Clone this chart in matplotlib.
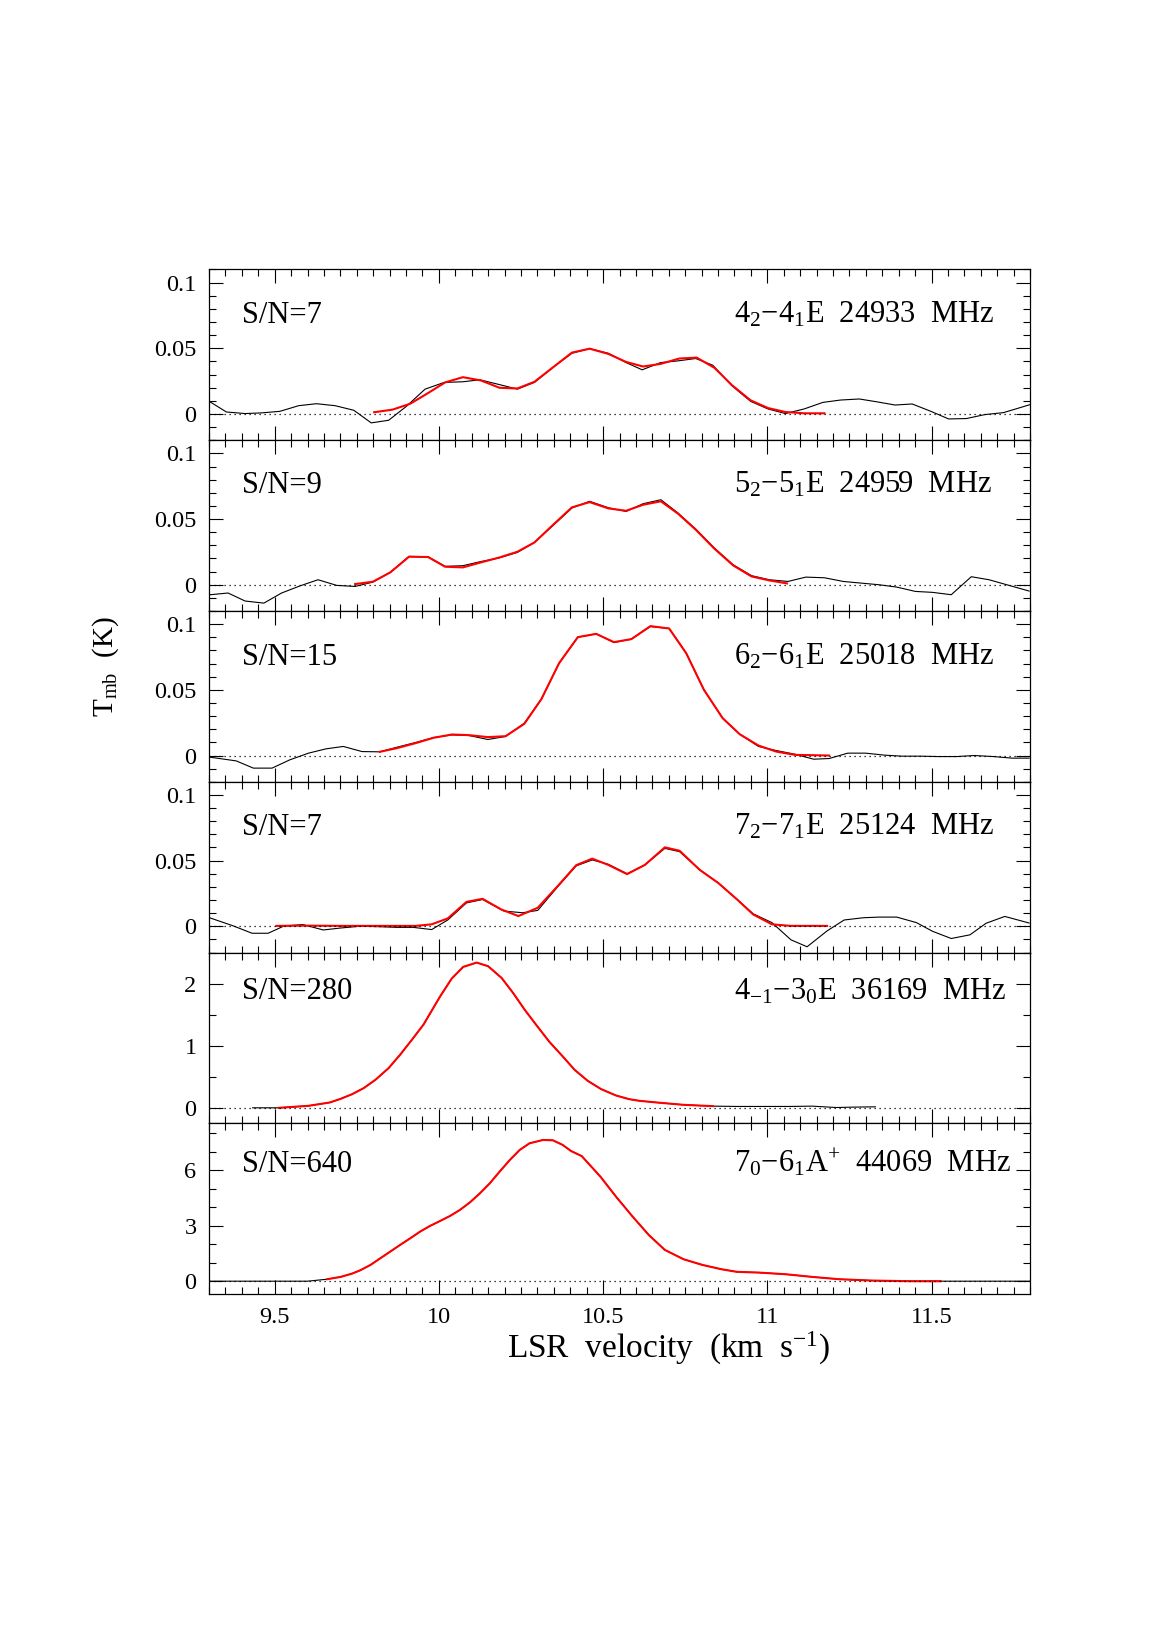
import matplotlib
matplotlib.use('Agg')
import matplotlib.pyplot as plt
from matplotlib.ticker import MultipleLocator, FuncFormatter

plt.rcParams['font.family'] = ['Liberation Serif', 'DejaVu Serif']
plt.rcParams['mathtext.fontset'] = 'custom'
plt.rcParams['mathtext.rm'] = 'Liberation Serif'
plt.rcParams['mathtext.it'] = 'Liberation Serif:italic'
plt.rcParams['mathtext.default'] = 'rm'

# ---- panel 1: 4_2-4_1 E 24933 MHz ----
v1_obs = [9.304, 9.353, 9.410, 9.459, 9.516, 9.573, 9.627, 9.684, 9.741, 9.794, 9.847, 9.901,
          9.958, 10.016, 10.073, 10.125, 10.182, 10.239, 10.291, 10.348, 10.405, 10.459, 10.516,
          10.570, 10.619, 10.675, 10.728, 10.782, 10.834, 10.892, 10.949, 11.002, 11.055, 11.112,
          11.169, 11.223, 11.280, 11.332, 11.389, 11.441, 11.498, 11.552, 11.606, 11.662, 11.719, 11.800]
t1_obs = [0.0091, 0.0015, 0.0003, 0.0008, 0.0020, 0.0063, 0.0078, 0.0063, 0.0028, -0.0068, -0.0048, 0.0058,
          0.0189, 0.0240, 0.0245, 0.0260, 0.0225, 0.0189, 0.0240, 0.0356, 0.0462, 0.0497, 0.0462,
          0.0391, 0.0336, 0.0391, 0.0404, 0.0422, 0.0371, 0.0215, 0.0096, 0.0038, 0.0003, 0.0038,
          0.0088, 0.0106, 0.0114, 0.0093, 0.0068, 0.0076, 0.0020, -0.0038, -0.0035, -0.0005, 0.0010, 0.0071]
v1_fit = [9.803, 9.859, 9.913, 9.967, 10.019, 10.073, 10.128, 10.185, 10.239, 10.291, 10.348, 10.405,
          10.459, 10.516, 10.570, 10.622, 10.675, 10.732, 10.785, 10.839, 10.892, 10.949, 11.002,
          11.055, 11.112, 11.174]
t1_fit = [0.0013, 0.0033, 0.0078, 0.0159, 0.0240, 0.0280, 0.0255, 0.0199, 0.0194, 0.0245, 0.0356, 0.0467,
          0.0497, 0.0457, 0.0396, 0.0361, 0.0381, 0.0422, 0.0429, 0.0351, 0.0220, 0.0104, 0.0045,
          0.0015, 0.0005, 0.0005]

# ---- panel 2: 5_2-5_1 E 24959 MHz ----
v2_obs = [9.304, 9.358, 9.410, 9.467, 9.521, 9.578, 9.632, 9.689, 9.745, 9.799, 9.852, 9.909,
          9.967, 10.019, 10.073, 10.125, 10.182, 10.239, 10.291, 10.348, 10.405, 10.459, 10.516,
          10.570, 10.622, 10.676, 10.728, 10.782, 10.839, 10.896, 10.952, 11.006, 11.063, 11.117,
          11.174, 11.231, 11.283, 11.340, 11.394, 11.451, 11.503, 11.560, 11.621, 11.675, 11.797]
t2_obs = [-0.0076, -0.0063, -0.0124, -0.0140, -0.0063, -0.0008, 0.0038, -0.0005, -0.0013, 0.0020, 0.0094, 0.0216,
          0.0213, 0.0140, 0.0145, 0.0175, 0.0203, 0.0246, 0.0322, 0.0452, 0.0584, 0.0635, 0.0586,
          0.0558, 0.0617, 0.0647, 0.0546, 0.0424, 0.0279, 0.0152, 0.0069, 0.0038, 0.0025, 0.0058,
          0.0053, 0.0025, 0.0013, 0.0000, -0.0018, -0.0051, -0.0058, -0.0076, 0.0061, 0.0038, -0.0048]
v2_fit = [9.745, 9.799, 9.852, 9.909, 9.967, 10.019, 10.073, 10.128, 10.185, 10.239, 10.291, 10.348,
          10.405, 10.459, 10.516, 10.570, 10.622, 10.676, 10.728, 10.782, 10.839, 10.896, 10.952,
          11.006, 11.060]
t2_fit = [0.0005, 0.0023, 0.0094, 0.0213, 0.0211, 0.0137, 0.0132, 0.0170, 0.0208, 0.0251, 0.0322, 0.0457,
          0.0589, 0.0629, 0.0581, 0.0563, 0.0609, 0.0635, 0.0541, 0.0419, 0.0274, 0.0147, 0.0063,
          0.0033, 0.0010]

# ---- panel 3: 6_2-6_1 E 25018 MHz ----
v3_obs = [9.304, 9.383, 9.435, 9.492, 9.546, 9.603, 9.657, 9.709, 9.766, 9.820, 9.872, 9.929,
          9.984, 10.040, 10.092, 10.149, 10.203, 10.260, 10.312, 10.366, 10.423, 10.479, 10.533,
          10.586, 10.644, 10.701, 10.753, 10.807, 10.864, 10.916, 10.973, 11.027, 11.084, 11.141,
          11.188, 11.245, 11.299, 11.356, 11.410, 11.467, 11.520, 11.577, 11.630, 11.688, 11.745, 11.797]
t3_obs = [-0.0013, -0.0041, -0.0096, -0.0096, -0.0033, 0.0018, 0.0051, 0.0069, 0.0030, 0.0028, 0.0063, 0.0099,
          0.0137, 0.0157, 0.0152, 0.0122, 0.0145, 0.0246, 0.0429, 0.0703, 0.0901, 0.0926, 0.0860,
          0.0886, 0.0982, 0.0967, 0.0779, 0.0500, 0.0284, 0.0162, 0.0069, 0.0038, 0.0010, -0.0028,
          -0.0023, 0.0018, 0.0018, 0.0003, -0.0005, -0.0005, -0.0008, -0.0008, 0.0000, -0.0008, -0.0020, -0.0020]
v3_fit = [9.820, 9.872, 9.929, 9.984, 10.040, 10.092, 10.149, 10.203, 10.260, 10.312, 10.366, 10.423,
          10.479, 10.533, 10.586, 10.644, 10.701, 10.753, 10.807, 10.864, 10.916, 10.973, 11.027,
          11.084, 11.188]
t3_fit = [0.0028, 0.0056, 0.0094, 0.0135, 0.0160, 0.0155, 0.0140, 0.0147, 0.0241, 0.0429, 0.0703, 0.0901,
          0.0926, 0.0863, 0.0886, 0.0985, 0.0967, 0.0779, 0.0500, 0.0284, 0.0162, 0.0076, 0.0030,
          0.0005, 0.0000]

# ---- panel 4: 7_2-7_1 E 25124 MHz ----
v4_obs = [9.304, 9.374, 9.431, 9.480, 9.529, 9.586, 9.648, 9.701, 9.758, 9.815, 9.872, 9.921,
          9.978, 10.027, 10.084, 10.133, 10.198, 10.255, 10.301, 10.361, 10.418, 10.467, 10.516,
          10.573, 10.627, 10.688, 10.733, 10.794, 10.851, 10.908, 10.957, 11.014, 11.072, 11.121,
          11.182, 11.234, 11.292, 11.340, 11.394, 11.454, 11.503, 11.560, 11.617, 11.666, 11.723, 11.797]
t4_obs = [0.0063, 0.0003, -0.0053, -0.0053, 0.0003, 0.0013, -0.0028, -0.0013, 0.0000, -0.0003, -0.0008, -0.0008,
          -0.0025, 0.0048, 0.0178, 0.0204, 0.0116, 0.0103, 0.0121, 0.0299, 0.0460, 0.0505, 0.0472,
          0.0400, 0.0467, 0.0593, 0.0568, 0.0430, 0.0329, 0.0204, 0.0095, 0.0028, -0.0103, -0.0156,
          -0.0035, 0.0048, 0.0065, 0.0070, 0.0070, 0.0028, -0.0038, -0.0093, -0.0065, 0.0023, 0.0075, 0.0025]
v4_fit = [9.505, 9.603, 9.701, 9.815, 9.929, 9.978, 10.027, 10.084, 10.133, 10.190, 10.242, 10.301,
          10.361, 10.418, 10.467, 10.516, 10.573, 10.627, 10.688, 10.733, 10.794, 10.851, 10.908,
          10.957, 11.014, 11.072, 11.182]
t4_fit = [0.0003, 0.0005, 0.0003, 0.0003, 0.0003, 0.0015, 0.0060, 0.0186, 0.0209, 0.0128, 0.0078, 0.0141,
          0.0304, 0.0465, 0.0515, 0.0467, 0.0397, 0.0467, 0.0601, 0.0575, 0.0430, 0.0329, 0.0204,
          0.0090, 0.0015, 0.0003, 0.0003]

# ---- panel 5: 4_-1-3_0 E 36169 MHz ----
v5_obs = [9.433, 9.480, 9.513, 9.603, 9.668, 9.701, 9.736, 9.771, 9.807, 9.847, 9.882, 9.918,
          9.953, 9.983, 10.004, 10.039, 10.074, 10.115, 10.150, 10.191, 10.226, 10.261, 10.302,
          10.337, 10.377, 10.413, 10.453, 10.494, 10.539, 10.579, 10.610, 10.663, 10.745, 10.834,
          10.908, 10.989, 11.071, 11.136, 11.210, 11.259, 11.329]
t5_obs = [0.000, 0.000, 0.000, 0.032, 0.086, 0.145, 0.220, 0.317, 0.452, 0.640, 0.855, 1.097,
          1.339, 1.608, 1.796, 2.081, 2.269, 2.339, 2.280, 2.091, 1.849, 1.581, 1.296,
          1.059, 0.828, 0.613, 0.435, 0.301, 0.199, 0.140, 0.113, 0.086, 0.048, 0.027,
          0.022, 0.022, 0.022, 0.027, 0.005, 0.011, 0.016]
v5_fit = [9.513, 9.603, 9.668, 9.701, 9.736, 9.771, 9.807, 9.847, 9.882, 9.918, 9.953, 9.983,
          10.004, 10.039, 10.074, 10.115, 10.150, 10.191, 10.226, 10.261, 10.302, 10.337, 10.377,
          10.413, 10.453, 10.494, 10.539, 10.579, 10.610, 10.663, 10.745, 10.834]
t5_fit = [0.000, 0.032, 0.086, 0.145, 0.220, 0.317, 0.452, 0.640, 0.855, 1.097, 1.339, 1.608,
          1.796, 2.081, 2.269, 2.339, 2.280, 2.091, 1.849, 1.581, 1.296, 1.059, 0.828,
          0.613, 0.435, 0.301, 0.199, 0.140, 0.113, 0.086, 0.048, 0.027]

# ---- panel 6: 7_0-6_1 A+ 44069 MHz ----
v6_obs = [9.300, 9.400, 9.500, 9.600, 9.660, 9.701, 9.736, 9.761, 9.792, 9.822, 9.852, 9.882,
          9.913, 9.943, 9.973, 10.004, 10.034, 10.064, 10.095, 10.125, 10.155, 10.185, 10.216,
          10.246, 10.276, 10.317, 10.347, 10.377, 10.402, 10.435, 10.492, 10.541, 10.590, 10.639,
          10.688, 10.745, 10.802, 10.860, 10.908, 10.973, 11.055, 11.136, 11.218, 11.316, 11.430,
          11.528, 11.650, 11.800]
t6_obs = [0.000, 0.000, 0.000, 0.000, 0.108, 0.233, 0.413, 0.594, 0.884, 1.245, 1.605, 1.966,
          2.327, 2.688, 2.994, 3.265, 3.535, 3.860, 4.276, 4.763, 5.304, 5.936, 6.567,
          7.109, 7.470, 7.650, 7.632, 7.380, 7.054, 6.775, 5.658, 4.541, 3.495, 2.505,
          1.694, 1.189, 0.883, 0.649, 0.505, 0.468, 0.378, 0.234, 0.108, 0.036, 0.000,
          0.000, 0.000, 0.000]
v6_fit = [9.660, 9.701, 9.736, 9.761, 9.792, 9.822, 9.852, 9.882, 9.913, 9.943, 9.973, 10.004,
          10.034, 10.064, 10.095, 10.125, 10.155, 10.185, 10.216, 10.246, 10.276, 10.317, 10.347,
          10.377, 10.402, 10.435, 10.492, 10.541, 10.590, 10.639, 10.688, 10.745, 10.802, 10.860,
          10.908, 10.973, 11.055, 11.136, 11.218, 11.316, 11.430, 11.528]
t6_fit = [0.108, 0.233, 0.413, 0.594, 0.884, 1.245, 1.605, 1.966, 2.327, 2.688, 2.994, 3.265,
          3.535, 3.860, 4.276, 4.763, 5.304, 5.936, 6.567, 7.109, 7.470, 7.650, 7.632,
          7.380, 7.054, 6.775, 5.658, 4.541, 3.495, 2.505, 1.694, 1.189, 0.883, 0.649,
          0.505, 0.468, 0.378, 0.234, 0.108, 0.036, 0.000, 0.000]

obs = [(v1_obs, t1_obs), (v2_obs, t2_obs), (v3_obs, t3_obs),
       (v4_obs, t4_obs), (v5_obs, t5_obs), (v6_obs, t6_obs)]
fits = [(v1_fit, t1_fit), (v2_fit, t2_fit), (v3_fit, t3_fit),
        (v4_fit, t4_fit), (v5_fit, t5_fit), (v6_fit, t6_fit)]

sn_labels = ['S/N=7', 'S/N=9', 'S/N=15', 'S/N=7', 'S/N=280', 'S/N=640']
line_labels = [r'4$_2$$-$4$_1$E  24933  MHz',
               r'5$_2$$-$5$_1$E  24959  MHz',
               r'6$_2$$-$6$_1$E  25018  MHz',
               r'7$_2$$-$7$_1$E  25124  MHz',
               r'4$_{-1}$$-$3$_0$E  36169  MHz',
               r'7$_0$$-$6$_1$A$^{+}$  44069  MHz']

ylims = [(-0.02, 0.11), (-0.02, 0.11), (-0.02, 0.11), (-0.02, 0.11), (-0.25, 2.5), (-0.7, 8.55)]
ymajor = [0.05, 0.05, 0.05, 0.05, 1, 3]
yminor = [0.01, 0.01, 0.01, 0.01, 0.5, 1]
label_y = [0.688, 0.692, 0.686, 0.690, 0.728, 0.718]

fig, axes = plt.subplots(6, 1, sharex=True, figsize=(11.63, 16.45), dpi=100)
fig.subplots_adjust(left=0.1797, right=0.8857, top=0.8362, bottom=0.2133, hspace=0)

fmt = FuncFormatter(lambda x, pos: '%g' % round(x, 4))

for i, ax in enumerate(axes):
    vo, to = obs[i]
    vf, tf = fits[i]
    ax.plot(vo, to, color='black', lw=0.8)
    ax.plot(vf, tf, color='red', lw=1.5)
    ax.axhline(0, color='black', lw=0.9, ls=(0, (1, 3)))

    ax.set_xlim(9.3, 11.8)
    ax.set_ylim(*ylims[i])
    ax.xaxis.set_major_locator(MultipleLocator(0.5))
    ax.xaxis.set_minor_locator(MultipleLocator(0.05))
    ax.yaxis.set_major_locator(MultipleLocator(ymajor[i]))
    ax.yaxis.set_minor_locator(MultipleLocator(yminor[i]))
    ax.yaxis.set_major_formatter(fmt)
    ax.xaxis.set_major_formatter(fmt)
    ax.tick_params(which='both', direction='in', top=True, right=True, labelsize=17.5, pad=9)
    ax.tick_params(which='major', length=10, width=0.8)
    ax.tick_params(which='minor', length=5, width=0.8)
    for sp in ax.spines.values():
        sp.set_linewidth(0.9)

    ax.text(0.04, label_y[i], sn_labels[i], transform=ax.transAxes,
            fontsize=22, ha='left', va='baseline')
    ax.text(0.64, label_y[i], line_labels[i], transform=ax.transAxes,
            fontsize=22, ha='left', va='baseline')

axes[-1].set_xlabel(r'LSR  velocity  (km  s$^{-1}$)', fontsize=24, labelpad=2)
axes[-1].xaxis.set_label_coords(0.56, -0.21)
fig.text(0.091, 0.595, r'T$_{\rm mb}$  (K)', rotation=90, fontsize=21, ha='center', va='center')

fig.savefig('out.png', dpi=100)
